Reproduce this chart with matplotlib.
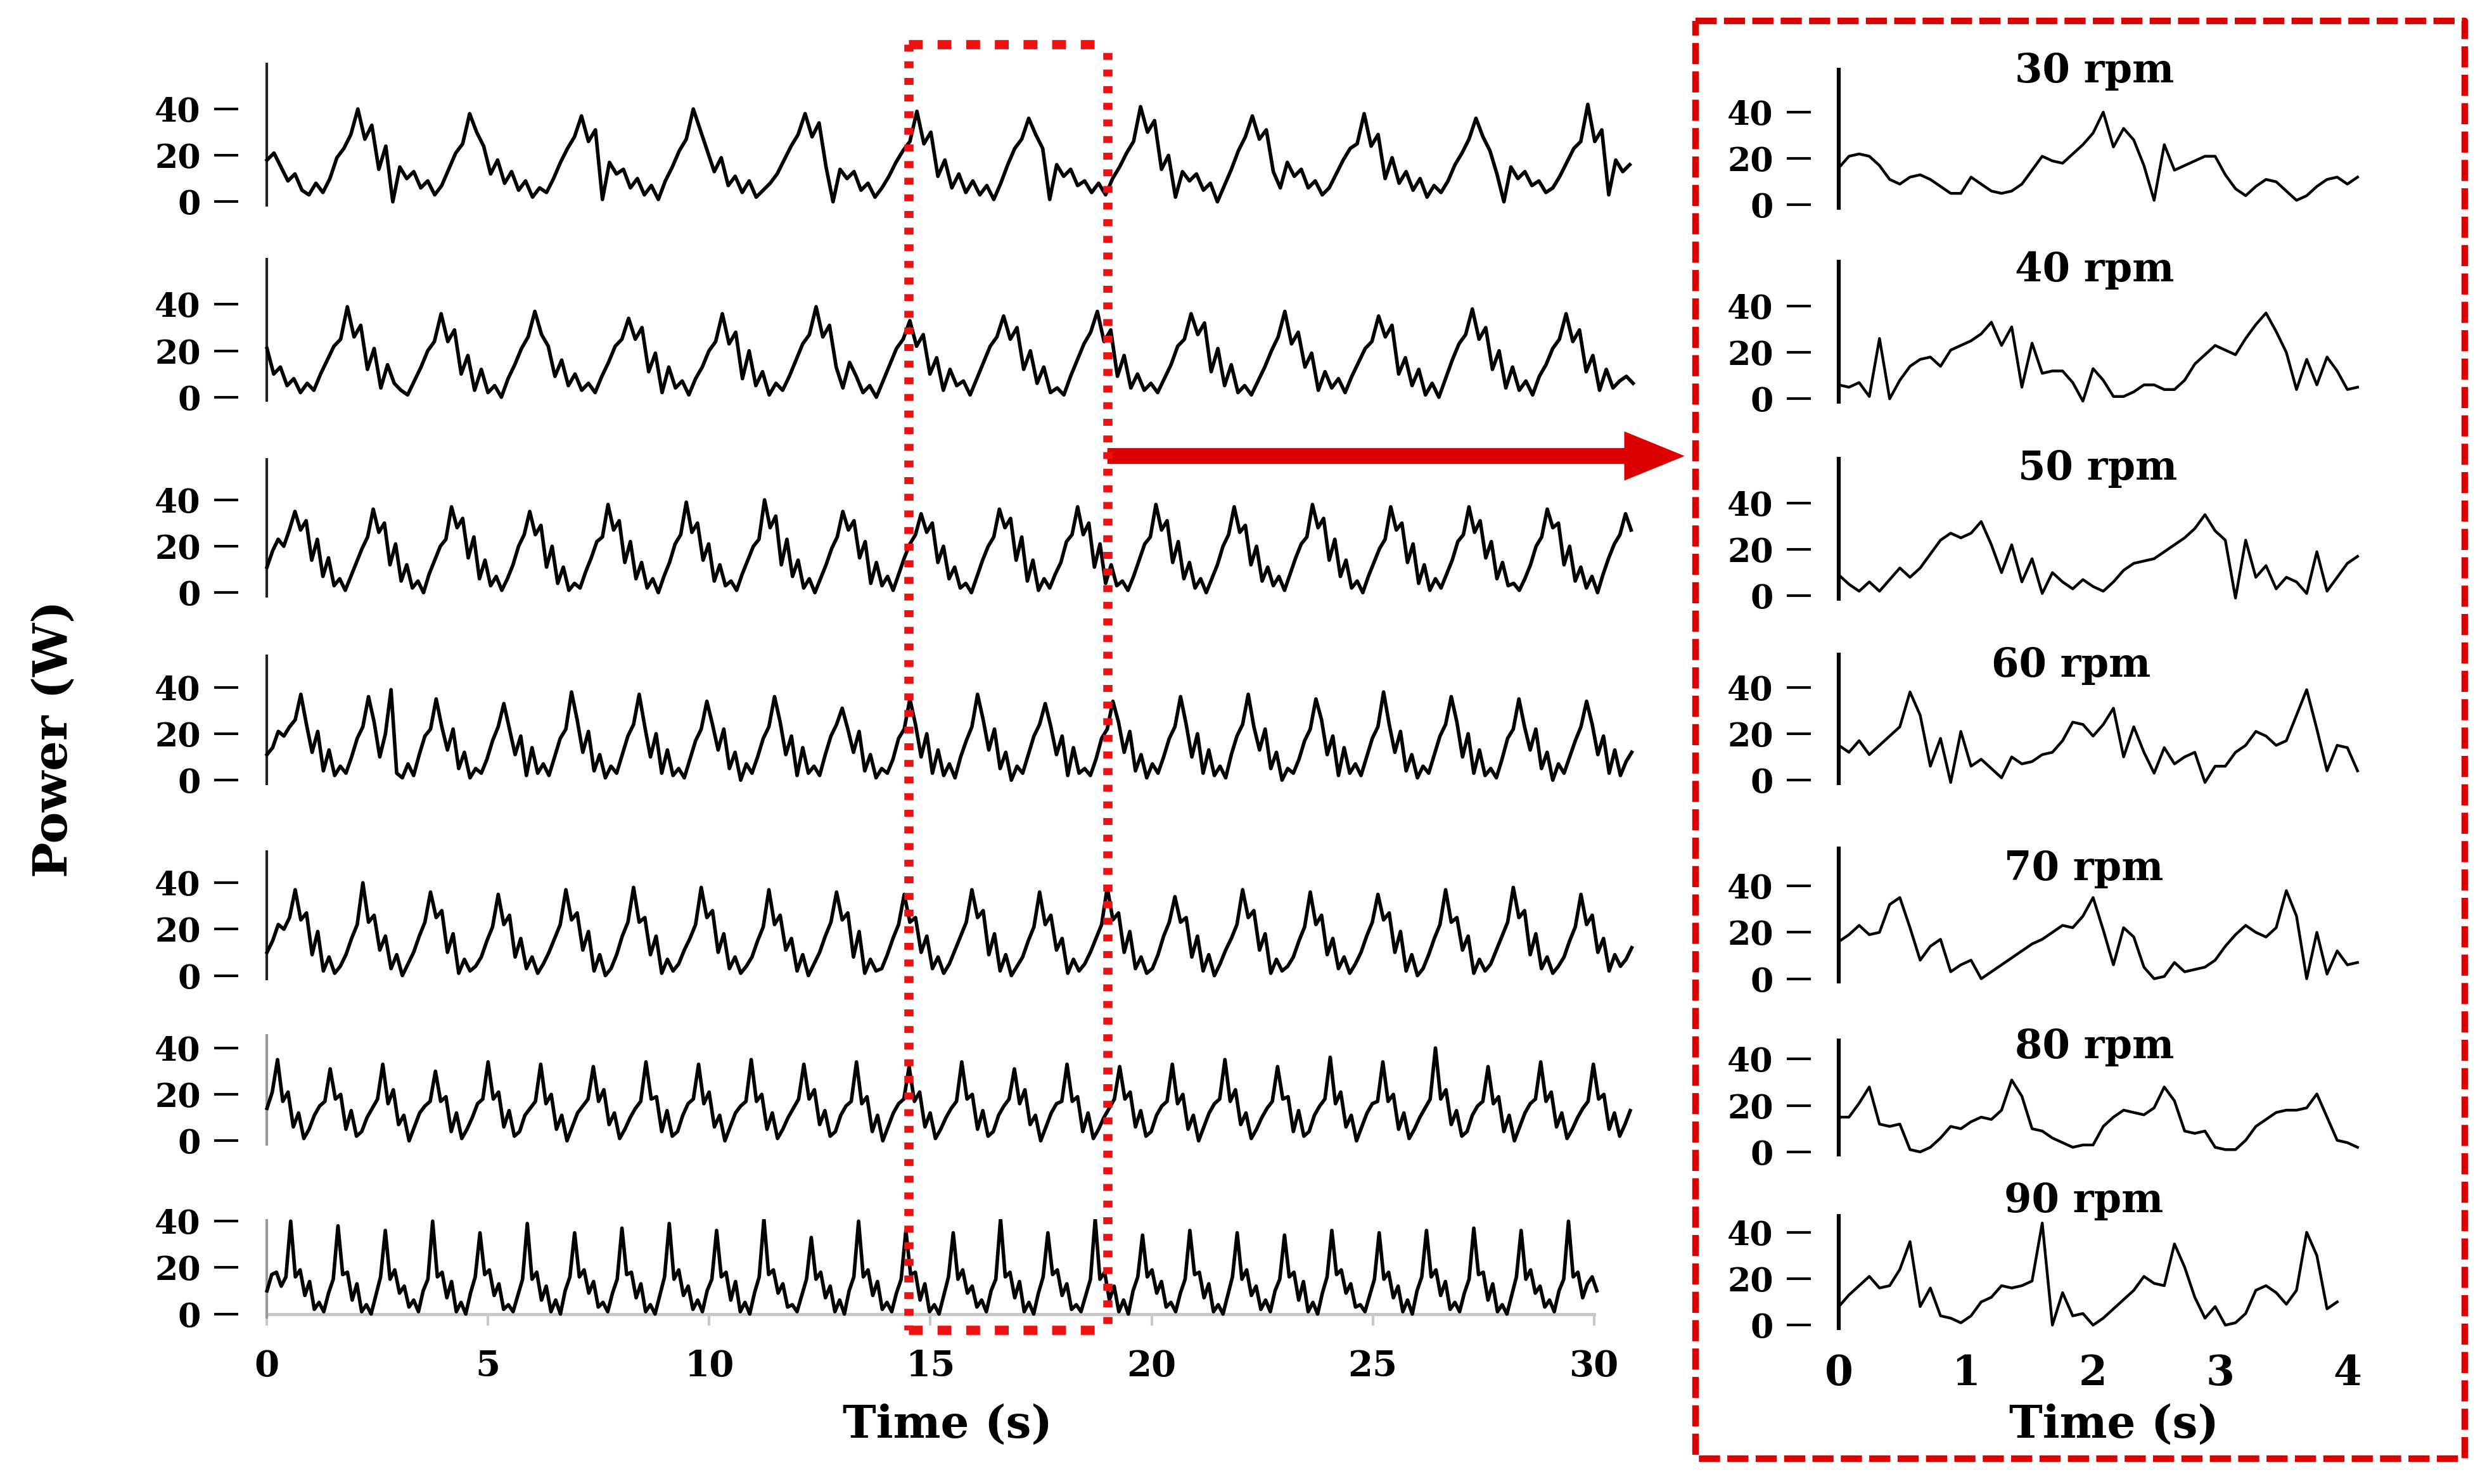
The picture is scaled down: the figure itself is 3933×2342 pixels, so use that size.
import numpy as np
import matplotlib
matplotlib.use("Agg")
import matplotlib.pyplot as plt
from matplotlib.lines import Line2D
from matplotlib.patches import FancyArrow
from matplotlib.transforms import blended_transform_factory

plt.rcParams["font.family"] = ["DejaVu Serif"]
plt.rcParams["font.weight"] = "bold"

rpm_labels = ["30 rpm", "40 rpm", "50 rpm", "60 rpm", "70 rpm", "80 rpm", "90 rpm"]

# 30 s recordings, one reading every dt seconds
full_dt = [0.158, 0.1514, 0.1264, 0.1275, 0.1275, 0.119, 0.107]

power_30 = [18, 21, 15, 9, 12, 5, 3, 8, 4, 10, 19, 23, 29,
            40, 27, 33, 14, 24, 0, 15, 10, 13, 6, 9, 3, 7, 14, 21, 25,
            38, 30, 24, 12, 18, 8, 13, 5, 9, 2, 6, 4, 10, 17, 23, 28,
            37, 26, 31, 1, 17, 12, 14, 6, 10, 3, 7, 1, 9, 15, 22, 27,
            40, 31, 22, 13, 19, 7, 11, 4, 9, 2, 5, 8, 12, 18, 24, 29,
            38, 28, 34, 15, 0, 14, 10, 13, 5, 8, 2, 6, 11, 17, 22, 26,
            39, 25, 30, 11, 18, 6, 12, 4, 9, 3, 7, 1, 8, 16, 23, 27,
            36, 29, 23, 1, 16, 11, 14, 7, 9, 4, 8, 3, 10, 15, 21, 26,
            41, 30, 35, 14, 20, 2, 13, 9, 12, 5, 8, 0, 7, 14, 22, 28,
            37, 27, 31, 13, 6, 17, 11, 14, 6, 9, 3, 6, 12, 18, 23, 25,
            38, 24, 29, 10, 19, 8, 13, 5, 10, 2, 7, 4, 9, 16, 21, 27,
            36, 28, 22, 12, 0, 15, 10, 13, 7, 9, 4, 6, 11, 17, 23, 26,
            42, 26, 31, 3, 18, 13, 16]

power_40 = [21, 10, 13, 5, 8, 2, 6, 3, 10, 16, 22, 25,
            39, 26, 31, 12, 21, 4, 14, 6, 3, 1, 7, 13, 20, 24,
            36, 24, 29, 10, 18, 3, 12, 2, 5, 0, 8, 14, 21, 26,
            37, 27, 22, 9, 16, 5, 10, 3, 6, 2, 9, 15, 22, 25,
            34, 25, 30, 11, 19, 2, 13, 4, 7, 1, 8, 13, 20, 24,
            36, 23, 28, 8, 20, 5, 11, 1, 6, 3, 9, 16, 23, 27,
            39, 26, 31, 13, 4, 15, 9, 2, 5, 0, 7, 14, 21, 25,
            33, 22, 27, 10, 17, 3, 12, 5, 7, 1, 8, 15, 22, 26,
            35, 25, 30, 12, 20, 6, 13, 2, 4, 1, 9, 16, 23, 28,
            37, 24, 29, 9, 18, 4, 10, 3, 6, 2, 8, 14, 22, 25,
            36, 27, 32, 11, 21, 5, 14, 2, 5, 1, 7, 13, 20, 26,
            37, 23, 28, 13, 19, 3, 11, 4, 8, 2, 9, 15, 21, 24,
            35, 26, 31, 10, 17, 5, 12, 1, 6, 0, 8, 16, 23, 27,
            38, 25, 30, 12, 20, 4, 13, 3, 7, 1, 9, 14, 21, 25,
            36, 24, 29, 11, 18, 3, 12, 4, 7, 9, 6]

power_50 = [11, 18, 23, 20, 27,
            35, 27, 31, 14, 23, 7, 15, 3, 6, 1, 7, 13, 19, 24,
            36, 26, 30, 12, 21, 5, 12, 2, 5, 0, 8, 14, 20, 23,
            37, 28, 32, 15, 24, 6, 14, 3, 7, 1, 6, 12, 20, 25,
            35, 25, 29, 11, 20, 4, 11, 1, 4, 2, 9, 15, 22, 24,
            38, 27, 31, 13, 22, 6, 13, 2, 6, 0, 7, 13, 21, 25,
            39, 26, 30, 14, 21, 5, 12, 3, 5, 1, 8, 14, 20, 23,
            40, 28, 33, 12, 23, 7, 14, 2, 6, 0, 6, 12, 19, 24,
            35, 27, 31, 15, 22, 4, 13, 3, 7, 1, 8, 15, 21, 25,
            34, 26, 30, 13, 20, 6, 11, 2, 4, 0, 7, 14, 20, 24,
            36, 28, 32, 14, 24, 5, 14, 1, 6, 2, 8, 13, 22, 25,
            37, 25, 30, 11, 21, 4, 12, 3, 5, 1, 7, 14, 21, 24,
            38, 27, 31, 13, 22, 6, 13, 2, 6, 0, 6, 12, 20, 25,
            37, 26, 29, 12, 20, 5, 11, 3, 7, 1, 8, 15, 21, 24,
            38, 28, 32, 14, 23, 7, 14, 2, 5, 0, 7, 13, 19, 23,
            37, 27, 30, 13, 21, 4, 12, 1, 6, 2, 8, 14, 22, 25,
            37, 26, 31, 15, 22, 6, 13, 3, 4, 1, 6, 12, 20, 24,
            36, 28, 30, 12, 20, 5, 11, 2, 7, 0, 8, 15, 21, 25,
            34, 27]

power_60 = [11, 14, 21, 19, 23, 26,
            37, 24, 12, 21, 4, 13, 2, 6, 3, 10, 18, 23,
            36, 25, 10, 20, 39, 3, 1, 7, 2, 11, 19, 22,
            35, 23, 13, 22, 5, 12, 1, 5, 3, 9, 17, 23,
            33, 22, 11, 19, 2, 14, 3, 7, 2, 10, 18, 22,
            38, 26, 12, 21, 4, 11, 1, 6, 3, 11, 19, 24,
            37, 23, 10, 20, 3, 13, 2, 5, 1, 9, 17, 22,
            34, 24, 13, 22, 5, 12, 0, 7, 3, 10, 18, 23,
            36, 25, 11, 19, 2, 14, 3, 6, 2, 11, 19, 24,
            31, 22, 12, 21, 4, 11, 1, 5, 3, 9, 18, 22,
            35, 24, 10, 20, 3, 13, 2, 7, 1, 10, 17, 23,
            37, 26, 13, 22, 5, 12, 0, 6, 3, 11, 19, 24,
            33, 23, 11, 19, 2, 14, 3, 5, 2, 9, 18, 22,
            34, 25, 12, 21, 4, 11, 1, 7, 3, 10, 18, 23,
            36, 24, 10, 20, 3, 13, 2, 6, 1, 11, 19, 24,
            37, 23, 13, 22, 5, 12, 0, 5, 3, 9, 17, 22,
            35, 26, 11, 19, 2, 14, 3, 7, 2, 10, 18, 23,
            38, 24, 12, 21, 4, 11, 1, 6, 3, 11, 19, 24,
            36, 25, 10, 20, 3, 13, 2, 5, 1, 9, 18, 22,
            35, 23, 13, 22, 5, 12, 0, 7, 3, 10, 17, 23,
            34, 24, 11, 19, 3, 13, 2, 8, 12]

power_70 = [10, 15, 22, 20, 25,
            37, 24, 27, 9, 19, 2, 8, 1, 4, 9, 16, 22,
            40, 23, 26, 11, 17, 3, 9, 0, 5, 10, 17, 23,
            36, 25, 28, 10, 18, 1, 7, 2, 4, 8, 15, 21,
            35, 22, 26, 8, 16, 3, 8, 1, 5, 10, 16, 22,
            37, 24, 27, 11, 19, 2, 9, 0, 3, 9, 17, 23,
            38, 23, 25, 9, 17, 1, 7, 2, 5, 11, 16, 22,
            38, 25, 28, 10, 18, 3, 8, 1, 4, 8, 15, 21,
            37, 22, 26, 11, 16, 2, 9, 0, 5, 10, 17, 23,
            36, 24, 27, 8, 19, 1, 7, 2, 3, 9, 16, 22,
            35, 23, 25, 10, 17, 3, 8, 1, 5, 11, 17, 23,
            37, 25, 28, 9, 18, 2, 9, 0, 4, 8, 15, 21,
            36, 22, 26, 11, 16, 1, 7, 2, 5, 10, 16, 22,
            38, 24, 27, 10, 19, 3, 8, 1, 3, 9, 17, 23,
            34, 23, 25, 8, 17, 2, 9, 0, 5, 11, 16, 22,
            37, 25, 28, 11, 18, 1, 7, 2, 4, 8, 15, 21,
            36, 22, 26, 9, 16, 3, 8, 1, 5, 10, 17, 23,
            35, 24, 27, 10, 19, 2, 9, 0, 3, 9, 16, 22,
            37, 23, 25, 11, 17, 1, 7, 2, 5, 11, 17, 23,
            38, 25, 28, 9, 18, 3, 8, 1, 4, 8, 15, 21,
            35, 22, 26, 10, 16, 2, 9, 4, 7, 12]

power_80 = [14, 21,
            35, 17, 21, 6, 12, 1, 5, 11, 15, 17,
            31, 18, 20, 5, 13, 2, 4, 10, 14, 18,
            33, 16, 22, 7, 11, 0, 6, 12, 15, 17,
            30, 17, 19, 4, 12, 1, 5, 10, 16, 18,
            34, 18, 21, 6, 13, 2, 4, 11, 14, 17,
            33, 16, 20, 5, 11, 0, 6, 12, 15, 18,
            32, 17, 22, 7, 12, 1, 5, 10, 14, 17,
            34, 18, 19, 4, 13, 2, 4, 11, 16, 18,
            33, 16, 21, 6, 11, 0, 6, 12, 15, 17,
            35, 17, 20, 5, 12, 1, 5, 10, 14, 18,
            33, 18, 22, 7, 13, 2, 4, 11, 15, 17,
            34, 16, 19, 4, 11, 0, 6, 12, 16, 18,
            32, 17, 21, 6, 12, 1, 5, 10, 14, 17,
            34, 18, 20, 5, 13, 2, 4, 11, 15, 18,
            31, 16, 22, 7, 11, 0, 6, 12, 16, 17,
            33, 17, 19, 4, 12, 1, 5, 10, 14, 18,
            32, 18, 21, 6, 13, 2, 4, 11, 15, 17,
            33, 16, 20, 5, 11, 0, 6, 12, 16, 18,
            35, 17, 22, 7, 12, 1, 5, 10, 14, 17,
            32, 18, 19, 4, 13, 2, 4, 11, 15, 18,
            36, 16, 21, 6, 11, 0, 6, 12, 16, 17,
            34, 17, 20, 5, 12, 1, 5, 10, 14, 18,
            40, 18, 22, 7, 13, 2, 4, 11, 15, 17,
            32, 16, 19, 4, 11, 0, 6, 12, 16, 18,
            34, 17, 21, 6, 12, 1, 5, 10, 14, 17,
            33, 18, 20, 5, 12, 2, 7, 13]

power_90 = [10, 17, 18, 12, 16,
            40, 16, 19, 8, 14, 2, 5, 1, 9, 15,
            38, 17, 18, 6, 13, 1, 4, 0, 8, 16,
            36, 15, 19, 9, 12, 3, 6, 1, 10, 15,
            40, 16, 18, 7, 14, 1, 5, 0, 9, 16,
            35, 17, 19, 8, 13, 2, 4, 1, 8, 15,
            39, 15, 18, 6, 12, 1, 6, 0, 10, 16,
            35, 16, 19, 9, 14, 3, 5, 1, 9, 15,
            37, 17, 18, 7, 13, 1, 4, 0, 8, 16,
            39, 15, 19, 8, 12, 2, 6, 1, 10, 15,
            36, 16, 18, 6, 14, 1, 5, 0, 9, 16,
            41, 17, 19, 9, 13, 3, 4, 1, 8, 15,
            33, 15, 18, 7, 12, 1, 6, 0, 10, 16,
            40, 16, 19, 8, 14, 2, 5, 1, 9, 15,
            36, 17, 18, 6, 13, 1, 4, 0, 8, 16,
            35, 15, 19, 9, 12, 3, 6, 1, 10, 15,
            41, 16, 18, 7, 14, 1, 5, 0, 9, 16,
            35, 17, 19, 8, 13, 2, 4, 1, 8, 15,
            41, 15, 18, 6, 12, 1, 6, 0, 10, 16,
            34, 16, 19, 9, 14, 3, 5, 1, 9, 15,
            36, 17, 18, 7, 13, 1, 4, 0, 8, 16,
            35, 15, 19, 8, 12, 2, 6, 1, 10, 15,
            34, 16, 18, 6, 14, 1, 5, 0, 9, 16,
            36, 17, 19, 9, 13, 3, 4, 1, 8, 15,
            35, 15, 18, 7, 12, 1, 6, 0, 10, 16,
            36, 16, 19, 8, 14, 2, 5, 1, 9, 15,
            37, 17, 18, 6, 13, 1, 4, 0, 8, 16,
            36, 15, 19, 9, 12, 3, 6, 1, 10, 15,
            40, 16, 18, 7, 13, 16, 10]

full_power = [power_30, power_40, power_50, power_60, power_70, power_80, power_90]

# 4 s close-ups, one reading every 0.08 s
zoom_dt = 0.08
zoom_30 = [16, 21, 22, 21, 17, 11, 9, 12, 13, 11, 8, 5, 5, 12, 9, 6, 5, 6, 9, 15, 21, 19, 18, 22, 26, 31,
           40, 25, 33, 28, 17, 2, 26, 15, 17, 19, 21, 21, 13, 7, 4, 8, 11, 10, 6, 2, 4, 8, 11, 12, 9, 12]
zoom_40 = [6, 5, 7, 1, 26, 0, 8, 14, 17, 18, 14, 21, 23, 25, 28, 33, 23, 31, 5, 24, 11, 12, 12, 7, -1, 13,
           8, 1, 1, 3, 6, 6, 4, 4, 8, 15, 19, 23, 21, 19, 26, 32, 37, 29, 20, 4, 17, 6, 18, 12, 4, 5]
zoom_50 = [9, 5, 2, 6, 2, 7, 12, 8, 12, 18, 24, 27, 25, 27, 32, 22, 10, 22, 6, 16, 1, 10, 6, 3, 7, 4,
           2, 6, 11, 14, 15, 16, 19, 22, 25, 29, 35, 28, 24, -1, 24, 8, 13, 3, 8, 6, 1, 19, 2, 8, 14, 17]
zoom_60 = [15, 12, 17, 11, 15, 19, 23, 38, 28, 6, 18, -1, 21, 6, 9, 5, 1, 10, 7, 8, 11, 12, 17, 25, 24, 19,
           24, 31, 10, 23, 12, 3, 14, 7, 10, 12, -1, 6, 6, 12, 15, 21, 19, 15, 17, 28, 39, 22, 4, 15, 14, 4]
zoom_70 = [16, 19, 23, 19, 20, 32, 35, 22, 8, 14, 17, 3, 6, 8, 0, 3, 6, 9, 12, 15, 17, 20, 23, 22, 27, 35,
           21, 6, 22, 18, 5, 0, 1, 7, 3, 4, 5, 8, 14, 19, 23, 20, 18, 22, 38, 27, 0, 20, 2, 12, 6, 7]
zoom_80 = [15, 15, 21, 28, 12, 11, 12, 1, 0, 2, 6, 11, 10, 13, 15, 14, 18, 31, 24, 10, 9, 6, 4, 2, 3, 3,
           11, 15, 18, 17, 16, 19, 28, 22, 9, 8, 9, 2, 1, 1, 5, 11, 14, 17, 18, 18, 19, 25, 15, 5, 4, 2]
zoom_90 = [8, 13, 17, 21, 16, 17, 24, 36, 8, 16, 4, 3, 1, 4, 10, 12, 17, 16, 17, 19, 44, 0, 14, 4, 5,
           0, 3, 7, 11, 15, 21, 18, 17, 35, 25, 12, 3, 8, 0, 1, 5, 15, 17, 14, 9, 15, 40, 30, 7, 10]
zoom_power = [zoom_30, zoom_40, zoom_50, zoom_60, zoom_70, zoom_80, zoom_90]

zoom_window = [14.5, 19.0]  # s, the stretch shown enlarged on the right
y_ticks = [0, 20, 40]
x_ticks_full = [0, 5, 10, 15, 20, 25, 30]
x_ticks_zoom = [0, 1, 2, 3, 4]

# layout, in pixels of a 1568 x 934 copy of the figure
W, H = 1568.0, 934.0
PX_PER_W = 1.46
left_zero = [127, 250, 373, 491, 614, 718, 827]
left_top = [60, 60, 58, 54, 54, 46, 41]
right_zero = [129, 251, 375, 491, 616, 725, 834]
right_top = [59, 60, 60, 55, 57, 49, 48]
title_xy = [(1318, 52), (1318, 177), (1320, 302), (1303, 426), (1311, 554), (1318, 666), (1311, 763)]


def make_row(fig, x_zero, px_per_s, xlim, y_zero, y_top, spine_color, spine_lw):
    left = (x_zero + xlim[0] * px_per_s) / W
    width = (xlim[1] - xlim[0]) * px_per_s / W
    bottom = 1 - (y_zero + 2 * PX_PER_W) / H
    height = (y_top + 2) * PX_PER_W / H
    ax = fig.add_axes([left, bottom, width, height])
    ax.set_xlim(xlim)
    ax.set_ylim(-2, y_top)
    ax.patch.set_visible(False)
    for s in ax.spines.values():
        s.set_visible(False)
    ax.axvline(0, color=spine_color, lw=spine_lw)
    ax.set_yticks(y_ticks)
    ax.tick_params(axis="y", direction="out", length=9.2, width=1.0, pad=5, labelsize=12.5)
    ax.tick_params(axis="x", length=0, labelbottom=False)
    return ax


fig = plt.figure(figsize=(3933 / 300, 2342 / 300), dpi=300)

# left: whole 30 s records
for i in range(7):
    ax = make_row(fig, 168, 27.83, (-0.65, 31.0), left_zero[i], left_top[i],
                  "#222222" if i < 5 else "#9a9a9a", 1.0)
    t = np.arange(len(full_power[i])) * full_dt[i]
    ax.plot(t, full_power[i], color="black", lw=1.35)
    if i == 6:
        ax_full = ax
        sp = ax.spines["bottom"]
        sp.set_visible(True)
        sp.set_position(("data", 0))
        sp.set_bounds(0, 30)
        sp.set_color("#c8c8c8")
        sp.set_linewidth(1.2)
        sp.set_zorder(1)
        ax.set_xticks(x_ticks_full)
        ax.tick_params(axis="x", length=4.2, width=1.0, color="#c8c8c8",
                       labelbottom=True, labelsize=13.5, pad=9)

# right: 4 s close-ups
for i in range(7):
    ax = make_row(fig, 1157, 80, (-0.22, 4.15), right_zero[i], right_top[i], "black", 1.5)
    t = np.arange(len(zoom_power[i])) * zoom_dt
    ax.plot(t, zoom_power[i], color="black", lw=1.05)
    fig.text(title_xy[i][0] / W, 1 - title_xy[i][1] / H, rpm_labels[i],
             ha="center", va="baseline", fontsize=15)
    if i == 6:
        ax.set_xticks(x_ticks_zoom)
        ax.tick_params(axis="x", length=0, labelbottom=True, labelsize=15.5, pad=9)

fig.text(596 / W, 1 - 897 / H, "Time (s)", ha="center", va="center", fontsize=17)
fig.text(1330 / W, 1 - 897 / H, "Time (s)", ha="center", va="center", fontsize=17)
fig.text(34 / W, 1 - 465 / H, "Power (W)", rotation=90, ha="center", va="center", fontsize=18)

# dotted box around the enlarged stretch
trans = blended_transform_factory(ax_full.transData, fig.transFigure)
x0, x1 = zoom_window
y_top, y_bot = 1 - 28 / H, 1 - 837 / H
box_red = "#ee1111"
edges = [([x0, x0], [y_top, y_bot], (0.75, 1.05)),
         ([x1, x1], [1 - 33 / H, y_bot], (0.75, 1.05)),
         ([x0, x1 - 0.3], [y_top, y_top], (1.5, 1.6)),
         ([x0, x1], [y_bot, y_bot], (1.5, 1.6))]
for xs, ys, dash in edges:
    fig.add_artist(Line2D(xs, ys, transform=trans, color=box_red, lw=3.5,
                          linestyle=(0, dash), dash_capstyle="butt"))

# dashed frame around the close-ups
bx = [1067 / W, 1551 / W, 1551 / W, 1067 / W, 1067 / W]
by = [1 - 13 / H, 1 - 13 / H, 1 - 918 / H, 1 - 918 / H, 1 - 13 / H]
fig.add_artist(Line2D(bx, by, transform=fig.transFigure, color="#dd0000", lw=2.5,
                      linestyle=(0, (3.2, 1.1)), dash_capstyle="butt"))

# arrow from the box to the close-ups
x_start = fig.transFigure.inverted().transform(ax_full.transData.transform((x1, 0)))[0]
arrow = FancyArrow(x_start, 1 - 287 / H, 1060 / W - x_start, 0, width=10 / H,
                   head_width=31 / H, head_length=38 / W, length_includes_head=True,
                   transform=fig.transFigure, color="#dd0000", lw=0)
fig.add_artist(arrow)

fig.savefig("out.png", dpi=300)
